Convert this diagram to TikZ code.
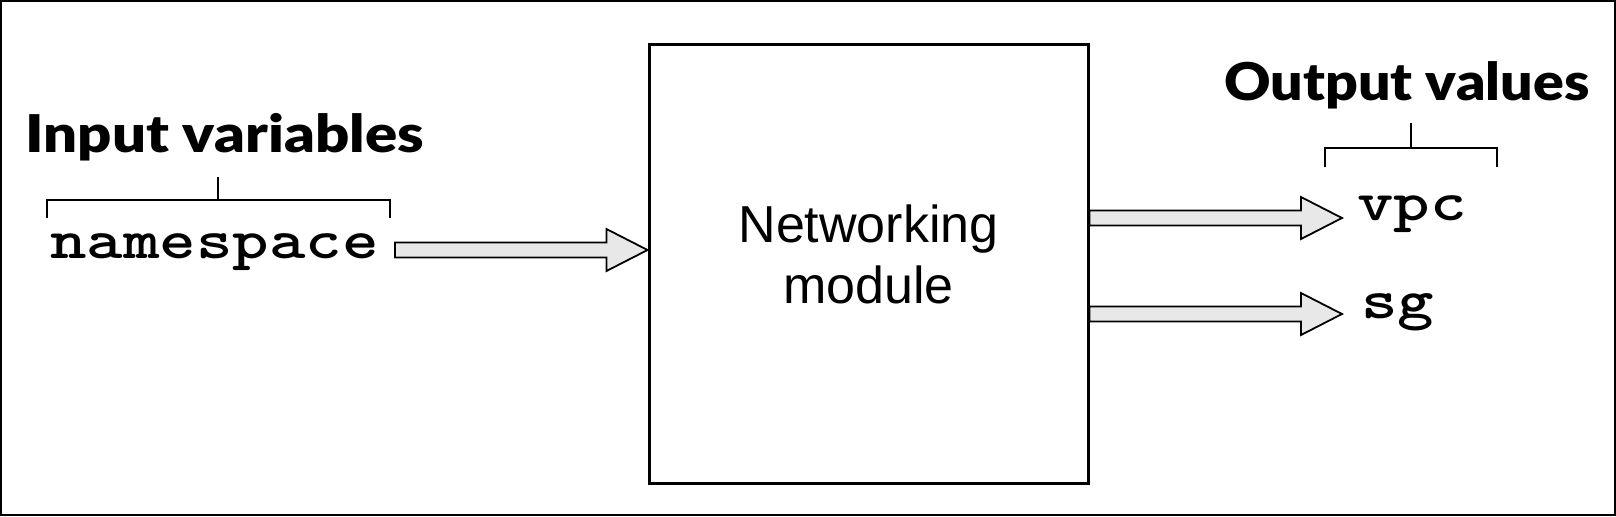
\documentclass[tikz,border=0pt]{standalone}
\usepackage{fontspec}
\setmainfont{Liberation Sans}
\newfontfamily\headfont{Lato}[BoldFont={* Black}]
\usetikzlibrary{calc}
\tikzset{
	fatarrow/.style={draw=black, fill=black!9, line width=0.9pt, line join=miter,
		to path={let \p1=(\tikztostart), \p2=(\tikztotarget) in
			(\x1,\y1+3.75pt) -- (\x2-20.5pt,\y1+3.75pt) -- (\x2-20.5pt,\y1+10.5pt) -- (\x2,\y1)
			-- (\x2-20.5pt,\y1-10.5pt) -- (\x2-20.5pt,\y1-3.75pt) -- (\x1,\y1-3.75pt) -- cycle}},
	heading/.style={inner sep=0pt, anchor=base west, font=\headfont\bfseries\fontsize{26}{30}\selectfont},
	varname/.style={inner sep=0pt, anchor=base west, font=\ttfamily\bfseries\fontsize{28}{32}\selectfont},
	bracket/.style={line width=1pt}
}
\begin{document}
\begin{tikzpicture}[x=0.5pt, y=-0.5pt]
			%%%%% START %%%%%
			\useasboundingbox (0,0) rectangle (1616,516);
			\draw[line width=1pt] (1,1) rectangle (1615,515);
			
			\node[draw, line width=1.5pt, minimum width=219.5pt, minimum height=219.5pt, inner sep=0pt] (net) at (868.5,263.5) {};
			\node[align=center, font=\fontsize{26}{30.5}\selectfont] (netlabel) at ([yshift=4.5pt]net.center) {Networking\\module};
			
			% input side
			\node[heading] (invars) at (25,152) {\scalebox{1.15}[1]{Input variables}};
			\draw[bracket] (47,218) -- (47,200) -- (390,200) -- (390,218);
			\draw[bracket] (218,200) -- (218,177);
			\node[varname] (ns) at (50,258) {\scalebox{1.24}[1]{namespace}};
			\coordinate (nsout) at (395,250);
			\draw[fatarrow] (nsout) to (net.west |- nsout);
			
			% output side
			\node[heading] (outvals) at (1224,100) {\scalebox{1.1}[1]{Output values}};
			\draw[bracket] (1325,167) -- (1325,148) -- (1497,148) -- (1497,167);
			\draw[bracket] (1411,148) -- (1411,123);
			\node[varname] (vpc) at (1357,220) {\scalebox{1.24}[1]{vpc}};
			\node[varname] (sg) at (1361,318) {\scalebox{1.24}[1]{sg}};
			\coordinate (vpcin) at (1342,218);
			\coordinate (sgin) at (1342,314);
			\draw[fatarrow] (net.east |- vpcin) to (vpcin);
			\draw[fatarrow] (net.east |- sgin) to (sgin);
			%%%%% END %%%%%
\end{tikzpicture}
\end{document}
